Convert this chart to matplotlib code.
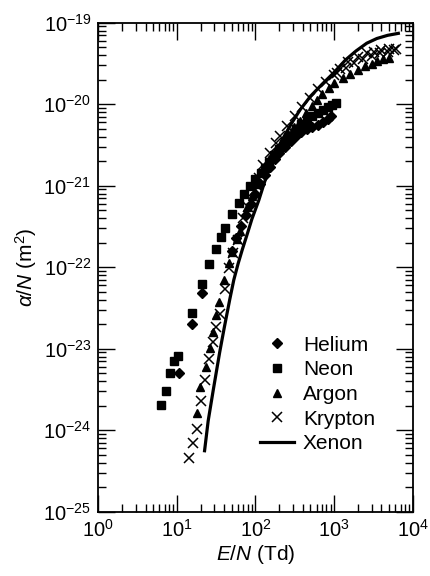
import numpy as np
import matplotlib
matplotlib.use("Agg")
import matplotlib.pyplot as plt
from matplotlib.ticker import FixedLocator, NullFormatter

plt.rcParams['font.family'] = ['Liberation Sans', 'DejaVu Sans']
plt.rcParams['mathtext.fontset'] = 'custom'
plt.rcParams['mathtext.rm'] = 'Liberation Sans'
plt.rcParams['mathtext.it'] = 'Liberation Sans:italic'
plt.rcParams['mathtext.default'] = 'regular'

# Helium
he_en = [10.5, 15.6, 20.9, 50, 57, 65, 75, 87, 100, 115, 132, 152, 175, 200, 240,
         280, 330, 380, 450, 530, 620, 720, 830, 920]
he_a = [5.1e-24, 2.0e-23, 4.8e-23, 1.6e-22, 2.3e-22, 3.2e-22, 4.4e-22, 6.0e-22, 8.0e-22,
        1.05e-21, 1.35e-21, 1.7e-21, 2.1e-21, 2.5e-21, 3.0e-21, 3.5e-21, 4.1e-21, 4.6e-21,
        5.0e-21, 5.3e-21, 5.6e-21, 6.0e-21, 6.6e-21, 7.2e-21]

# Neon
ne_en = [6.28, 7.2, 8.1, 9.27, 10.4, 15.4, 20.9, 25.3, 31, 36.4, 40.9, 50.7, 61, 71.4,
         85.2, 98.6, 116, 132, 150, 172, 200, 240, 280, 330, 380, 450, 530, 620, 720,
         830, 950, 1050]
ne_a = [2.04e-24, 3.05e-24, 5.1e-24, 7.1e-24, 8.2e-24, 2.77e-23, 6.2e-23, 1.09e-22,
        1.69e-22, 2.37e-22, 3.0e-22, 4.5e-22, 6.2e-22, 7.9e-22, 1.0e-21, 1.2e-21, 1.42e-21,
        1.64e-21, 1.97e-21, 2.38e-21, 2.8e-21, 3.4e-21, 4.1e-21, 5.0e-21, 5.7e-21, 6.4e-21,
        7.1e-21, 7.8e-21, 8.5e-21, 9.2e-21, 9.8e-21, 1.02e-20]

# Argon
ar_en = [17.9, 19.7, 23.3, 26.1, 29.0, 31.4, 34.3, 39.7, 46.4, 50.7, 57.6, 63.5, 77.3,
         90, 105, 125, 150, 180, 215, 260, 310, 370, 440, 520, 600, 700, 850, 1000, 1300,
         1600, 2000, 2500, 3000, 3500, 4200, 5000]
ar_a = [1.61e-24, 3.36e-24, 5.9e-24, 1.01e-23, 1.62e-23, 2.6e-23, 3.7e-23, 7.0e-23,
        1.13e-22, 1.55e-22, 2.2e-22, 2.8e-22, 5.5e-22, 7.5e-22, 1.05e-21, 1.5e-21, 2.1e-21,
        2.8e-21, 3.5e-21, 4.3e-21, 5.2e-21, 6.3e-21, 7.7e-21, 9.4e-21, 1.12e-20, 1.33e-20,
        1.6e-20, 1.82e-20, 2.1e-20, 2.38e-20, 2.65e-20, 2.95e-20, 3.15e-20, 3.35e-20, 3.55e-20,
        3.7e-20]

# Krypton
kr_en = [14.4, 15.9, 17.9, 20.0, 22.8, 25.8, 29.0, 31.4, 35.3, 40.9, 45.6, 52.2, 59.4,
         68.8, 81, 95, 110, 126, 152, 180, 205, 248, 316, 386, 495, 630, 800, 1000, 1200,
         1500, 2000, 2600, 3200, 4000, 5000, 6200,
         1100, 1400, 1800, 2300, 3000, 3800, 4800, 5800]
kr_a = [4.5e-25, 6.9e-25, 1.04e-24, 2.3e-24, 4.1e-24, 7.4e-24, 1.22e-23, 1.86e-23,
        2.7e-23, 5.4e-23, 9.7e-23, 1.5e-22, 2.16e-22, 4.0e-22, 5.5e-22, 8.5e-22, 1.25e-21,
        1.8e-21, 2.55e-21, 3.3e-21, 4.1e-21, 5.4e-21, 7.2e-21, 9.2e-21, 1.18e-20, 1.52e-20,
        1.88e-20, 2.3e-20, 2.7e-20, 3.25e-20, 3.8e-20, 4.2e-20, 4.4e-20, 4.6e-20, 4.7e-20,
        4.8e-20,
        2.4e-20, 2.8e-20, 3.2e-20, 3.6e-20, 3.9e-20, 4.2e-20, 4.4e-20, 4.6e-20]

# Xenon (curve)
xe_en = [22.5, 25, 29, 35, 40, 47, 53, 60, 68, 79, 90, 110, 130, 153, 186, 240, 290,
         368, 500, 700, 977, 1400, 1900, 2600, 3500, 4800, 6560]
xe_a = [5.6e-25, 1.3e-24, 3.1e-24, 9e-24, 1.8e-23, 4.0e-23, 7e-23, 1.1e-22, 1.65e-22,
        2.6e-22, 3.9e-22, 6.6e-22, 1.1e-21, 1.71e-21, 2.74e-21, 4.3e-21, 5.9e-21, 8.5e-21,
        1.25e-20, 1.75e-20, 2.4e-20, 3.5e-20, 4.5e-20, 5.6e-20, 6.4e-20, 7.0e-20, 7.4e-20]

x_dec = [0, 1, 2, 3, 4]
y_dec = [-25, -24, -23, -22, -21, -20, -19]

fig = plt.figure(figsize=(4.31, 5.76), dpi=100)
ax = fig.add_axes([0.228, 0.1116, 0.7296, 0.849])

ax.plot(he_en, he_a, 'D', color='k', ms=5, ls='none', label='Helium')
ax.plot(ne_en, ne_a, 's', color='k', ms=5.5, ls='none', label='Neon')
ax.plot(ar_en, ar_a, '^', color='k', ms=6, ls='none', label='Argon')
ax.plot(kr_en, kr_a, 'x', color='k', ms=6.5, mew=1.1, ls='none', label='Krypton')
ax.plot(xe_en, xe_a, '-', color='k', lw=2.3, label='Xenon')

ax.set_xscale('log')
ax.set_yscale('log')
ax.set_xlim(1, 1e4)
ax.set_ylim(1e-25, 1e-19)

ax.set_xticks([10.0 ** d for d in x_dec])
ax.set_xticklabels([r'$10^{%d}$' % d for d in x_dec])
ax.set_yticks([10.0 ** d for d in y_dec])
ax.set_yticklabels([r'$10^{%d}$' % d for d in y_dec])

x_minor = [m * 10.0 ** d for d in x_dec[:-1] for m in range(2, 10)]
y_minor = [m * 10.0 ** d for d in y_dec[:-1] for m in range(2, 10)]
ax.xaxis.set_minor_locator(FixedLocator(x_minor))
ax.yaxis.set_minor_locator(FixedLocator(y_minor))
ax.xaxis.set_minor_formatter(NullFormatter())
ax.yaxis.set_minor_formatter(NullFormatter())

ax.tick_params(which='both', direction='in', top=True, right=True, width=1.0,
               labelsize=14.5, colors='k')
ax.tick_params(which='major', length=12, pad=5)
ax.tick_params(which='minor', length=5.5)
for s in ax.spines.values():
    s.set_linewidth(1.3)

ax.set_xlabel(r'$\it{E/N}$ (Td)', fontsize=15, labelpad=2)
ax.set_ylabel(r'$\it{\alpha/N}$ (m$^2$)', fontsize=15, labelpad=3)

ax.legend(loc='upper left', bbox_to_anchor=(0.515, 0.36), frameon=False,
          fontsize=15, handlelength=1.6, handletextpad=0.45, labelspacing=0.27,
          borderpad=0, borderaxespad=0)

fig.savefig('out.png', dpi=100)
